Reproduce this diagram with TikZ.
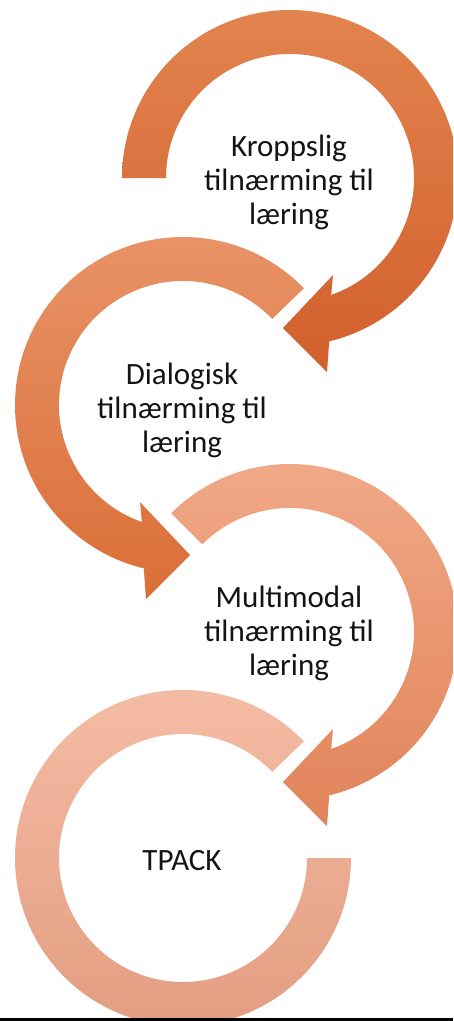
\documentclass[tikz,border=0pt]{standalone}
\usepackage{fontspec}
\setmainfont{Carlito}
\definecolor{aT}{HTML}{E2844F}
\definecolor{aB}{HTML}{D25F2C}
\definecolor{bT}{HTML}{E99469}
\definecolor{bB}{HTML}{DA6E37}
\definecolor{cT}{HTML}{F1AA88}
\definecolor{cB}{HTML}{E1835A}
\definecolor{dT}{HTML}{F5BDA6}
\definecolor{dB}{HTML}{E29C80}
\definecolor{baseline}{HTML}{3A3A3A}
\begin{document}
\begin{tikzpicture}[x=1pt,y=1pt,
  lbl/.style={font=\fontsize{31}{34}\selectfont, align=center, inner sep=0pt, text=black!92}]
\useasboundingbox (0,0) rectangle (453,-1021);
\clip (0,0) rectangle (453,-1021);
% ring 1 (clockwise, arrow)
\path[top color=aT, bottom color=aB, shift={(290,-178)}]
  (180:124) -- (180:168) arc[start angle=180, end angle=-76.5, radius=168]
  -- (37,-194) -- (-7,-150) -- (43,-97) -- (-70.6:124)
  arc[start angle=-70.6, end angle=180, radius=124] -- cycle;
% ring 2 (counter-clockwise, arrow)
\path[top color=bT, bottom color=bB, shift={(183,-405)}]
  (44:124) -- (44:168) arc[start angle=44, end angle=256.5, radius=168]
  -- (-37,-194) -- (7,-150) -- (-43,-97) -- (250.6:124)
  arc[start angle=250.6, end angle=44, radius=124] -- cycle;
% ring 3 (clockwise, arrow)
\path[top color=cT, bottom color=cB, shift={(290,-632)}]
  (135:124) -- (135:168) arc[start angle=135, end angle=-76.5, radius=168]
  -- (37,-194) -- (-7,-150) -- (43,-97) -- (-70.6:124)
  arc[start angle=-70.6, end angle=135, radius=124] -- cycle;
% ring 4 (no arrow)
\path[top color=dT, bottom color=dB, shift={(183,-858)}]
  (44:124) -- (44:168) arc[start angle=44, end angle=360, radius=168]
  -- (0:124) arc[start angle=360, end angle=44, radius=124] -- cycle;
% texts
\node[lbl] (t1) at (289,-182) {Kroppslig\\tilnærming til\\læring};
\node[lbl] (t2) at (182,-410) {Dialogisk\\tilnærming til\\læring};
\node[lbl] (t3) at (289,-633) {Multimodal\\tilnærming til\\læring};
\node[lbl, anchor=base] (t4) at (182,-870) {TPACK};
% bottom rule
\fill[baseline] (0,-1018) rectangle (453,-1021);
\end{tikzpicture}
\end{document}
